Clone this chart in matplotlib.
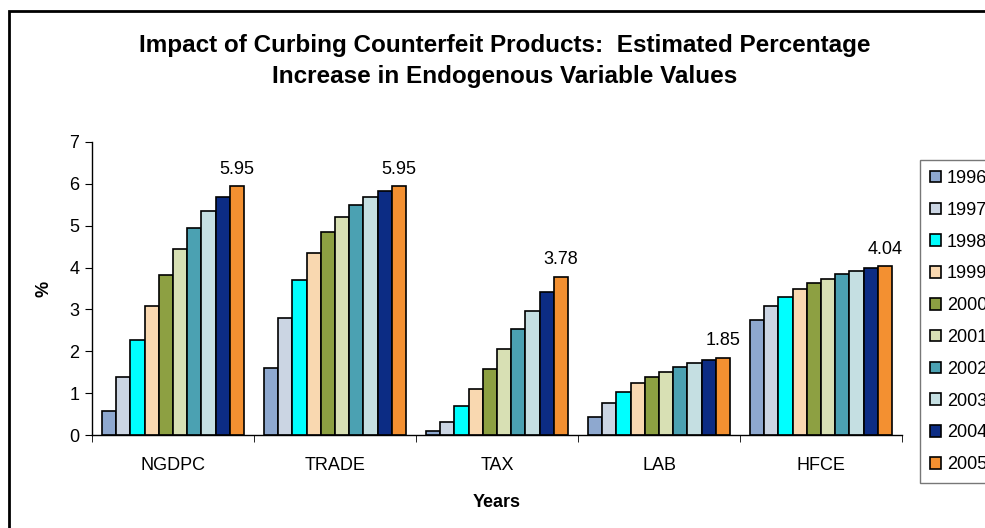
import matplotlib
matplotlib.use('Agg')
import matplotlib.pyplot as plt
import numpy as np
from matplotlib.patches import Rectangle

plt.rcParams['font.family'] = ['Liberation Sans', 'DejaVu Sans']

# estimated % increase per variable, one list per year
variables = ['NGDPC', 'TRADE', 'TAX', 'LAB', 'HFCE']
years = ['1996', '1997', '1998', '1999', '2000', '2001', '2002', '2003', '2004', '2005']
values = {
    '1996': [0.58, 1.61, 0.10, 0.44, 2.75],
    '1997': [1.39, 2.79, 0.32, 0.76, 3.07],
    '1998': [2.27, 3.70, 0.69, 1.02, 3.29],
    '1999': [3.08, 4.36, 1.09, 1.24, 3.48],
    '2000': [3.82, 4.84, 1.57, 1.39, 3.64],
    '2001': [4.44, 5.20, 2.05, 1.50, 3.73],
    '2002': [4.95, 5.50, 2.53, 1.62, 3.85],
    '2003': [5.36, 5.69, 2.97, 1.72, 3.92],
    '2004': [5.69, 5.83, 3.41, 1.79, 3.99],
    '2005': [5.95, 5.95, 3.78, 1.85, 4.04],
}
colors = ['#8EA8CF', '#CBD5E3', '#00FFFF', '#F9D8B0', '#8DA042',
          '#D8E0B4', '#4BA1B2', '#C5DFE2', '#0C2C84', '#F39031']

fig = plt.figure(figsize=(9.85, 5.28), dpi=100)
ax = fig.add_axes([92/985, 93/528, 810/985, 293/528])

n = len(years)
group = 0.876
w = group / n
x = np.arange(len(variables))
for i, yr in enumerate(years):
    pos = x - group/2 + w/2 + i*w
    bars = ax.bar(pos, values[yr], width=w, color=colors[i], edgecolor='black',
                  linewidth=1.2, label=yr)
    if yr == '2005':
        for p, v in zip(pos, values[yr]):
            ax.text(p, v + 0.2, '%.2f' % v, ha='center', va='bottom', fontsize=13)

ax.set_xlim(-0.5, len(variables) - 0.5)
ax.set_ylim(0, 7)
ax.set_yticks(range(8))
ax.set_xticks(x)
ax.set_xticklabels(variables)
ax.set_xticks(np.arange(len(variables) + 1) - 0.5, minor=True)
ax.tick_params(axis='x', which='major', length=0, pad=16, labelsize=13)
ax.tick_params(axis='x', which='minor', length=5, direction='out')
ax.tick_params(axis='y', length=5, direction='out', labelsize=13, pad=4)
for s in ['top', 'right']:
    ax.spines[s].set_visible(False)
ax.spines['left'].set_linewidth(1)
ax.spines['bottom'].set_linewidth(1)

ax.set_ylabel('%', fontsize=13, fontweight='bold', labelpad=12)
ax.set_xlabel('Years', fontsize=13, fontweight='bold', labelpad=14)

fig.text(505/985, 1 - 61/528,
         'Impact of Curbing Counterfeit Products:  Estimated Percentage\nIncrease in Endogenous Variable Values',
         ha='center', va='center', fontsize=17.5, fontweight='bold', linespacing=1.45)

leg = fig.legend(loc='upper left', bbox_to_anchor=(920/985, 1 - 160/528),
                 fontsize=13, frameon=True, fancybox=False, edgecolor='#555555',
                 handlelength=0.6, handleheight=0.6, handletextpad=0.35,
                 labelspacing=0.82, borderpad=0.55, borderaxespad=0)
leg.get_frame().set_linewidth(1)

# outer chart border, runs off the right and bottom edges
fig.patches.append(Rectangle((9/985, -0.1), 1.2, 1.1 - 11/528, transform=fig.transFigure,
                             fill=False, edgecolor='black', linewidth=2))

fig.savefig('out.png', dpi=100)
